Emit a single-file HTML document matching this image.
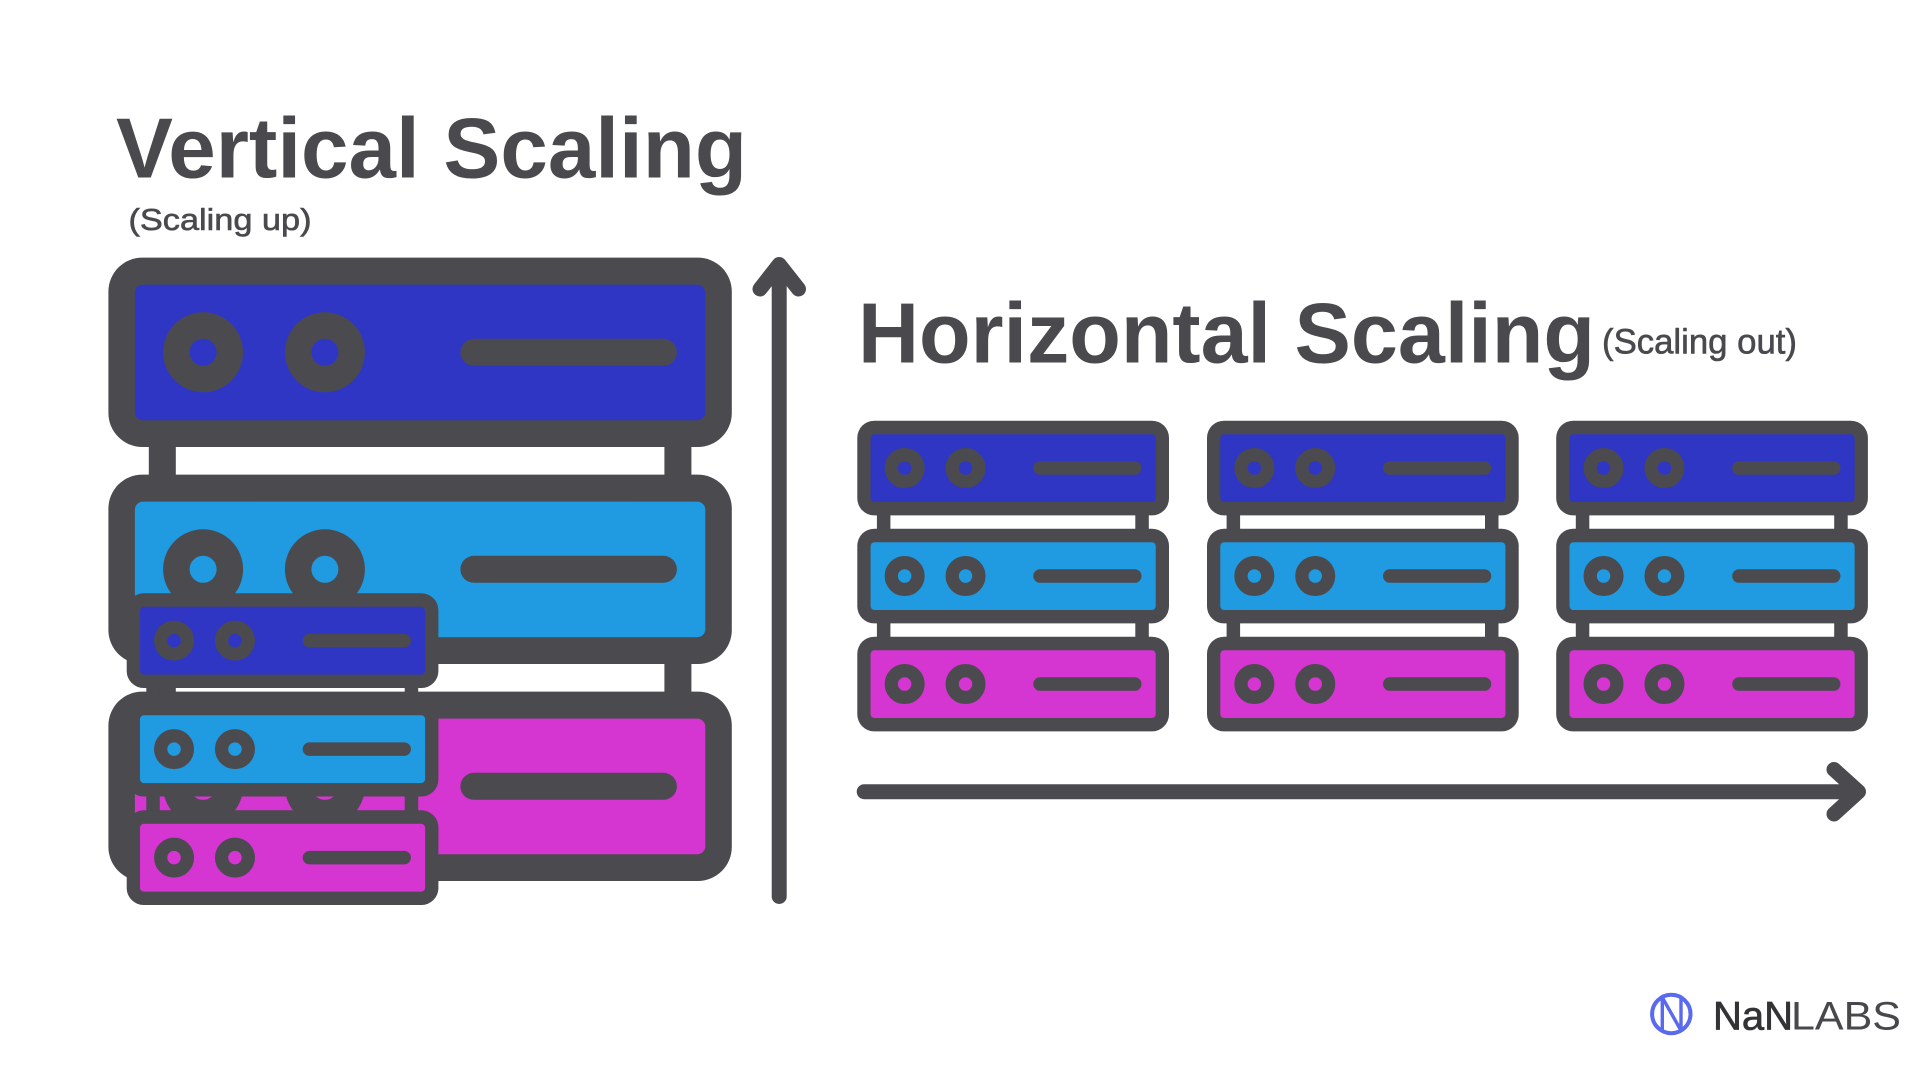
<!DOCTYPE html>
<html>
<head>
<meta charset="utf-8">
<style>
  html, body { margin:0; padding:0; background:#ffffff; }
  body { width:1920px; height:1080px; overflow:hidden; }
  svg { display:block; }
  text { font-family:"Liberation Sans", Arial, sans-serif; fill:#4a494d; }
</style>
</head>
<body>
<svg width="1920" height="1080" viewBox="0 0 1920 1080" xmlns="http://www.w3.org/2000/svg">
  <defs>
    <g id="srv">
      <rect x="0" y="0" width="623.4" height="189.4" rx="34" ry="34" fill="#4b4a4e"/>
      <rect x="26.5" y="27" width="570.4" height="135.6" rx="8" ry="8" fill="currentColor"/>
      <circle cx="94.7" cy="94.7" r="26.75" fill="none" stroke="#4b4a4e" stroke-width="26.5"/>
      <circle cx="216.5" cy="94.7" r="26.75" fill="none" stroke="#4b4a4e" stroke-width="26.5"/>
      <line x1="365.5" y1="94.7" x2="555" y2="94.7" stroke="#4b4a4e" stroke-width="27" stroke-linecap="round"/>
    </g>
  </defs>

  <!-- ===== Vertical scaling: big stack ===== -->
  <rect x="148.8" y="420" width="27" height="300" fill="#4b4a4e"/>
  <rect x="664.4" y="420" width="27" height="300" fill="#4b4a4e"/>
  <use href="#srv" x="108.4" y="257.6" style="color:#3036c4"/>
  <use href="#srv" x="108.4" y="474.6" style="color:#209ae0"/>
  <use href="#srv" x="108.4" y="691.6" style="color:#d535d0"/>

  <!-- small overlay stack -->
  <rect x="146.3" y="660" width="13.5" height="170" fill="#4b4a4e"/>
  <rect x="404.7" y="660" width="13.5" height="170" fill="#4b4a4e"/>
  <use href="#srv" transform="translate(126.7,593.3) scale(0.5)" style="color:#3036c4"/>
  <use href="#srv" transform="translate(126.7,701.8) scale(0.5)" style="color:#209ae0"/>
  <use href="#srv" transform="translate(126.7,810.3) scale(0.5)" style="color:#d535d0"/>

  <!-- vertical arrow -->
  <line x1="779.2" y1="266" x2="779.2" y2="896.5" stroke="#4b4a4e" stroke-width="15" stroke-linecap="round"/>
  <polyline points="760,289 779.2,264.5 798.5,289" fill="none" stroke="#4b4a4e" stroke-width="15" stroke-linecap="round" stroke-linejoin="round"/>

  <!-- ===== Horizontal scaling: three stacks ===== -->
  <g>
    <rect x="876.9" y="480" width="13.5" height="180" fill="#4b4a4e"/>
    <rect x="1135.3" y="480" width="13.5" height="180" fill="#4b4a4e"/>
    <use href="#srv" transform="translate(857.3,420.7) scale(0.5)" style="color:#3036c4"/>
    <use href="#srv" transform="translate(857.3,528.7) scale(0.5)" style="color:#209ae0"/>
    <use href="#srv" transform="translate(857.3,636.7) scale(0.5)" style="color:#d535d0"/>
  </g>
  <g>
    <rect x="1226.6" y="480" width="13.5" height="180" fill="#4b4a4e"/>
    <rect x="1485" y="480" width="13.5" height="180" fill="#4b4a4e"/>
    <use href="#srv" transform="translate(1207,420.7) scale(0.5)" style="color:#3036c4"/>
    <use href="#srv" transform="translate(1207,528.7) scale(0.5)" style="color:#209ae0"/>
    <use href="#srv" transform="translate(1207,636.7) scale(0.5)" style="color:#d535d0"/>
  </g>
  <g>
    <rect x="1575.8" y="480" width="13.5" height="180" fill="#4b4a4e"/>
    <rect x="1834.2" y="480" width="13.5" height="180" fill="#4b4a4e"/>
    <use href="#srv" transform="translate(1556.2,420.7) scale(0.5)" style="color:#3036c4"/>
    <use href="#srv" transform="translate(1556.2,528.7) scale(0.5)" style="color:#209ae0"/>
    <use href="#srv" transform="translate(1556.2,636.7) scale(0.5)" style="color:#d535d0"/>
  </g>

  <!-- horizontal arrow -->
  <line x1="864.2" y1="791.7" x2="1856" y2="791.7" stroke="#4b4a4e" stroke-width="15" stroke-linecap="round"/>
  <polyline points="1834,769.5 1858.5,791.7 1834,814" fill="none" stroke="#4b4a4e" stroke-width="15" stroke-linecap="round" stroke-linejoin="round"/>

  <!-- ===== Titles ===== -->
  <text x="116" y="177.3" font-size="85" font-weight="bold" textLength="631" lengthAdjust="spacingAndGlyphs">Vertical Scaling</text>
  <text x="128.5" y="230" font-size="31" textLength="183" lengthAdjust="spacingAndGlyphs" stroke="#4a494d" stroke-width="0.6">(Scaling up)</text>

  <text x="858" y="362.7" font-size="85" font-weight="bold" textLength="737" lengthAdjust="spacingAndGlyphs">Horizontal Scaling</text>
  <text x="1602" y="353.3" font-size="35" textLength="195" lengthAdjust="spacingAndGlyphs" stroke="#4a494d" stroke-width="0.6">(Scaling out)</text>

  <!-- ===== Logo ===== -->
  <circle cx="1671.3" cy="1014" r="19.2" fill="none" stroke="#5a6af0" stroke-width="4"/>
  <path d="M1662.3,997.5 L1662.3,1030.5 M1662.3,997.5 L1681,1030.5 M1681,997.5 L1681,1030.5" fill="none" stroke="#5a6af0" stroke-width="3.4"/>
  <text x="1713" y="1029.3" font-size="40" style="fill:#333336" stroke="#333336" stroke-width="0.7">NaN</text>
  <text x="1791" y="1029.3" font-size="40" style="fill:#48474b" textLength="110" lengthAdjust="spacingAndGlyphs">LABS</text>
</svg>
</body>
</html>
